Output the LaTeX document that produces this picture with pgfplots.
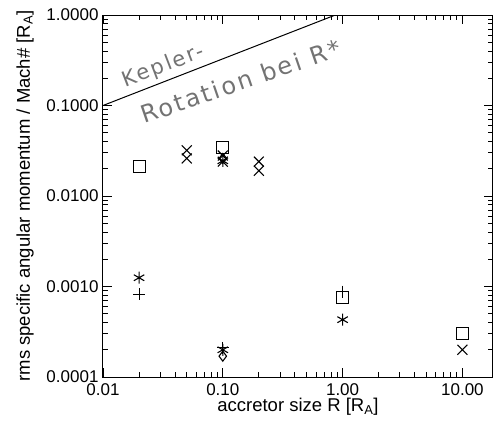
\documentclass[border=0pt]{standalone}
\usepackage{fontspec}
\setmainfont{Liberation Sans}
\newfontfamily\hand[LetterSpace=10]{DejaVu Sans}
\usepackage{pgfplots}
\pgfplotsset{compat=1.18}

\begin{document}
\begin{tikzpicture}
\begin{loglogaxis}[
  scale only axis,
  width=390pt, height=362pt,
  xmin=0.01, xmax=18,
  ymin=1e-4, ymax=1,
  xtick={0.01,0.1,1,10},
  xticklabels={0.01,0.10,1.00,10.00},
  ytick={1e-4,1e-3,1e-2,1e-1,1},
  yticklabels={0.0001,0.0010,0.0100,0.1000,1.0000},
  major tick length=9pt,
  minor tick length=5pt,
  tick style={black, line width=0.9pt},
  axis line style={line width=1pt},
  ticklabel style={font=\fontsize{17}{17}\selectfont},
  xticklabel style={yshift=-3pt},
  yticklabel style={xshift=-1pt},
  label style={font=\fontsize{18.5}{18.5}\selectfont},
  xlabel={accretor size R [R\textsubscript{A}]},
  ylabel={rms specific angular momentum / Mach\# [R\textsubscript{A}]},
  xlabel style={yshift=4pt},
  ylabel style={yshift=6pt},
]
% inward tick marks on all four sides
\pgfplotsinvokeforeach{0.01,0.1,1,10}{
  \draw[black, line width=0.9pt] (axis cs:#1,1e-4) -- ++(0pt,9pt);
  \draw[black, line width=0.9pt] (axis cs:#1,1) -- ++(0pt,-9pt);
}
\pgfplotsinvokeforeach{0.02,0.03,0.04,0.05,0.06,0.07,0.08,0.09,
                       0.2,0.3,0.4,0.5,0.6,0.7,0.8,0.9,
                       2,3,4,5,6,7,8,9}{
  \draw[black, line width=0.9pt] (axis cs:#1,1e-4) -- ++(0pt,5pt);
  \draw[black, line width=0.9pt] (axis cs:#1,1) -- ++(0pt,-5pt);
}
\pgfplotsinvokeforeach{1e-4,1e-3,1e-2,0.1,1}{
  \draw[black, line width=0.9pt] (axis cs:0.01,#1) -- ++(9pt,0pt);
  \draw[black, line width=0.9pt] (axis cs:18,#1) -- ++(-9pt,0pt);
}
\pgfplotsinvokeforeach{2e-4,3e-4,4e-4,5e-4,6e-4,7e-4,8e-4,9e-4,
                       2e-3,3e-3,4e-3,5e-3,6e-3,7e-3,8e-3,9e-3,
                       0.02,0.03,0.04,0.05,0.06,0.07,0.08,0.09,
                       0.2,0.3,0.4,0.5,0.6,0.7,0.8,0.9}{
  \draw[black, line width=0.9pt] (axis cs:0.01,#1) -- ++(5pt,0pt);
  \draw[black, line width=0.9pt] (axis cs:18,#1) -- ++(-5pt,0pt);
}

% Keplerian rotation at the stellar surface
\addplot[black, line width=1pt] coordinates {(0.01,0.1) (0.87,1)};

% squares
\addplot[only marks, mark=square, mark size=6pt, line width=1.1pt] coordinates {
  (0.02,0.021) (0.1,0.034) (1,0.00075) (10,0.0003)};
% crosses
\addplot[only marks, mark=x, mark size=7pt, line width=1.1pt] coordinates {
  (0.05,0.032) (0.05,0.026) (0.1,0.028) (0.1,0.024)
  (0.2,0.024) (0.2,0.019) (10,0.0002)};
% asterisks
\addplot[only marks, mark=asterisk, mark size=6pt, line width=1.1pt] coordinates {
  (0.02,0.00125) (0.1,0.0245) (0.1,0.0002) (1,0.00043)};
% plus signs
\addplot[only marks, mark=+, mark size=6pt, line width=1.1pt] coordinates {
  (0.02,0.00082) (0.1,0.00021) (1,0.00088)};
% diamonds
\addplot[only marks, mark=diamond, mark size=5pt, line width=1.1pt] coordinates {
  (0.1,0.026) (0.1,0.00017)};

\node[rotate=21, text=black!55, font=\hand\fontsize{21}{21}\selectfont]
  at (axis cs:0.032,0.27) {Kepler-};
\node[rotate=19, text=black!55, font=\hand\fontsize{24}{24}\selectfont]
  at (axis cs:0.14,0.185) {Rotation bei R*};
\end{loglogaxis}
% margins around the axis box
\path ([xshift=-103pt,yshift=-47pt]current axis.south west) coordinate (bl);
\path ([xshift=5pt,yshift=15pt]current axis.north east) coordinate (tr);
\path (bl) (tr);
\end{tikzpicture}
\end{document}
